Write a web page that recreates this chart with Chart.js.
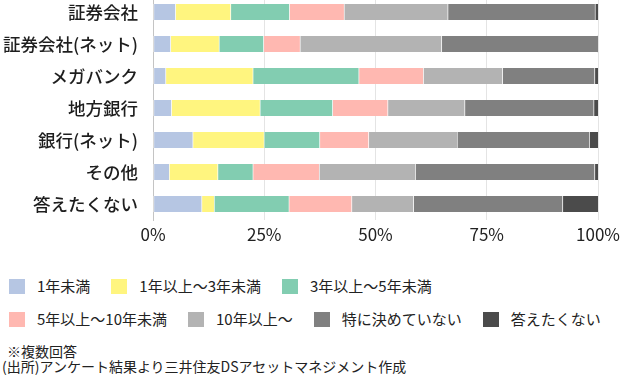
<!DOCTYPE html>
<html lang="ja">
<head>
<meta charset="UTF-8">
<title>保有期間</title>
<script src="https://cdn.jsdelivr.net/npm/chart.js"></script>
<style>
  body { margin: 0; background: #fff; font-family: "Noto Sans CJK JP", "Noto Sans", sans-serif; color: #222; }
  .page { position: relative; width: 626px; height: 384px; overflow: hidden; }
  .wrapper { position: absolute; left: 0; top: -4px; width: 626px; height: 252px; }
  .legend { position: absolute; left: 9px; top: 0; }
  .legend .row { position: absolute; left: 0; display: flex; white-space: nowrap; }
  .legend .item { display: flex; align-items: center; margin-right: 21px; font-size: 15px; line-height: 18px; }
  .legend .box { width: 16px; height: 15px; margin-right: 12px; }
  .note { position: absolute; left: 2px; font-size: 14px; line-height: 15px; }
</style>
</head>
<body>
<div class="page">
  <div class="wrapper"><canvas id="chart"></canvas></div>
  <div class="legend" id="legend"></div>
  <div class="note" style="top:344px; left:7px;">※複数回答</div>
  <div class="note" style="top:359px;">(出所)アンケート結果より三井住友DSアセットマネジメント作成</div>
</div>
<script>
const categories = ['証券会社', '証券会社(ネット)', 'メガバンク', '地方銀行', '銀行(ネット)', 'その他', '答えたくない'];

const seriesNames = ['1年未満', '1年以上～3年未満', '3年以上～5年未満', '5年以上～10年未満', '10年以上～', '特に決めていない', '答えたくない'];
const seriesColors = ['#b6c6e3', '#fff57f', '#82cdb1', '#ffb8b1', '#b3b3b3', '#808080', '#4b4b4b'];

// 値(%) カテゴリ順
const under1 = [5.0, 3.9, 2.8, 4.1, 8.9, 3.6, 10.9];
const y1to3 = [12.4, 10.9, 19.6, 19.9, 16.0, 10.9, 2.8];
const y3to5 = [13.2, 10.0, 23.8, 16.3, 12.5, 7.9, 16.8];
const y5to10 = [12.3, 8.2, 14.5, 12.4, 11.0, 14.9, 14.1];
const over10 = [23.3, 31.8, 17.8, 17.3, 19.9, 21.6, 13.9];
const undecided = [33.1, 35.2, 20.7, 29.0, 29.7, 40.3, 33.5];
const noAnswer = [0.7, 0.0, 0.8, 1.0, 2.0, 0.8, 8.0];

const xTicks = [0, 25, 50, 75, 100];

const seriesValues = [under1, y1to3, y3to5, y5to10, over10, undecided, noAnswer];

const datasets = seriesNames.map((name, i) => ({
    label: name,
    data: seriesValues[i],
    backgroundColor: seriesColors[i],
    borderColor: 'rgba(255,255,255,0.55)',
    borderWidth: { left: 1, right: 0, top: 0, bottom: 0 },
    borderSkipped: false,
    barThickness: 16,
}));

const font = '"Noto Sans CJK JP", "Noto Sans", sans-serif';

new Chart(document.getElementById('chart'), {
    type: 'bar',
    data: { labels: categories, datasets: datasets },
    options: {
        indexAxis: 'y',
        responsive: true,
        maintainAspectRatio: false,
        animation: false,
        layout: { padding: { top: 0, right: 28, bottom: 0, left: 0 } },
        scales: {
            x: {
                stacked: true,
                min: 0,
                max: 100,
                afterBuildTicks: (s) => { s.ticks = xTicks.map(v => ({ value: v })); },
                afterFit: (s) => { s.height = 28; },
                ticks: {
                    callback: (v) => v + '%',
                    font: { family: font, size: 17 },
                    color: '#222',
                    padding: 4,
                    maxRotation: 0,
                },
                grid: { color: '#e4e4e4', drawTicks: false },
                border: { display: false },
            },
            y: {
                stacked: true,
                afterFit: (s) => { s.width = 153; s.paddingTop = 0; s.paddingBottom = 0; },
                ticks: {
                    font: { family: font, size: 17.5, weight: '500' },
                    color: '#1e1e1e',
                    padding: 15,
                },
                grid: { display: false, drawTicks: false },
                border: { display: true, color: '#c4c4c4', width: 1 },
            },
        },
        plugins: {
            legend: { display: false },
            tooltip: { enabled: false },
        },
    },
});

// 凡例(2段)
const legend = document.getElementById('legend');
const rows = [[0, 1, 2], [3, 4, 5, 6]];
const rowTops = [277, 310];
rows.forEach((idx, r) => {
    const row = document.createElement('div');
    row.className = 'row';
    row.style.top = rowTops[r] + 'px';
    idx.forEach(i => {
        const item = document.createElement('div');
        item.className = 'item';
        item.innerHTML = '<span class="box" style="background:' + seriesColors[i] + '"></span>' + seriesNames[i];
        row.appendChild(item);
    });
    legend.appendChild(row);
});
</script>
</body>
</html>
